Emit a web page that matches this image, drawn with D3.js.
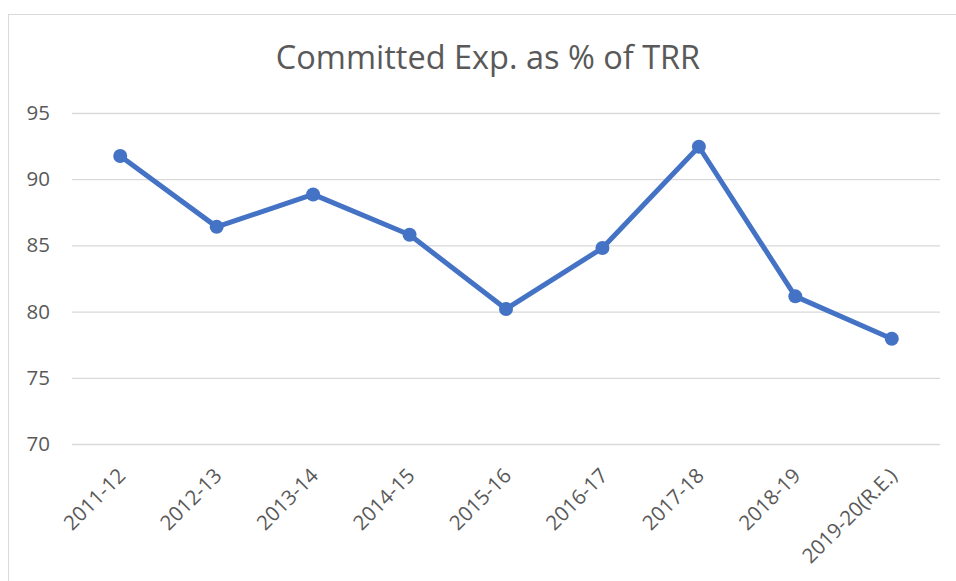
<!DOCTYPE html>
<html lang="en">
<head>
  <meta charset="UTF-8">
  <title>Committed Exp. as % of TRR</title>
  <script src="https://d3js.org/d3.v7.min.js"></script>
  <style>
    body {
      margin: 0;
      padding: 0;
      background-color: white;
      font-family: "Open Sans", sans-serif;
    }
  </style>
</head>
<body>
  <div id="chart"></div>

  <script>
    const years = ["2011-12", "2012-13", "2013-14", "2014-15", "2015-16", "2016-17", "2017-18", "2018-19", "2019-20(R.E.)"];
    const committedPct = [91.75, 86.4, 88.85, 85.8, 80.2, 84.8, 92.45, 81.15, 77.95];
    const yTicks = [70, 75, 80, 85, 90, 95];

    const width = 956;
    const height = 581;
    const plotLeft = 72, plotRight = 940, plotTop = 113, plotBottom = 444;
    const font = "'Open Sans', sans-serif";

    const svg = d3.select("#chart")
      .append("svg")
      .attr("width", width)
      .attr("height", height);

    // chart frame
    svg.append("rect")
      .attr("x", 8.5)
      .attr("y", 14.5)
      .attr("width", width + 20)
      .attr("height", height + 20)
      .attr("fill", "white")
      .attr("stroke", "#d9d9d9");

    svg.append("text")
      .attr("x", 488)
      .attr("y", 69)
      .attr("text-anchor", "middle")
      .style("font-family", font)
      .style("font-size", "32.5px")
      .style("fill", "#595959")
      .text("Committed Exp. as % of TRR");

    const x = d3.scalePoint()
      .domain(years)
      .range([plotLeft, plotRight])
      .padding(0.5);

    const y = d3.scaleLinear()
      .domain([70, 95])
      .range([plotBottom, plotTop]);

    // gridlines + y labels
    const yAxis = svg.append("g")
      .attr("transform", `translate(${plotLeft},0)`)
      .call(d3.axisLeft(y).tickValues(yTicks).tickSize(-(plotRight - plotLeft)).tickPadding(22));
    yAxis.select(".domain").remove();
    yAxis.selectAll(".tick line").attr("stroke", "#d9d9d9").attr("stroke-width", 1.3);
    yAxis.selectAll(".tick text")
      .style("font-size", "20.5px")
      .style("fill", "#595959")
      .style("font-family", font);

    // x labels
    const xAxis = svg.append("g")
      .attr("transform", `translate(0,${plotBottom})`)
      .call(d3.axisBottom(x).tickSize(0).tickPadding(0));
    xAxis.select(".domain").remove();
    xAxis.selectAll(".tick text")
      .attr("text-anchor", "end")
      .attr("dy", 0)
      .attr("transform", "translate(6,33) rotate(-45)")
      .style("font-size", "20.5px")
      .style("fill", "#595959")
      .style("font-family", font);

    const line = d3.line()
      .x((d, i) => x(years[i]))
      .y(d => y(d));

    svg.append("path")
      .datum(committedPct)
      .attr("fill", "none")
      .attr("stroke", "#4472c4")
      .attr("stroke-width", 5)
      .attr("stroke-linejoin", "round")
      .attr("d", line);

    svg.append("g")
      .selectAll("circle")
      .data(committedPct)
      .join("circle")
      .attr("cx", (d, i) => x(years[i]))
      .attr("cy", d => y(d))
      .attr("r", 7)
      .attr("fill", "#4472c4");
  </script>
</body>
</html>
